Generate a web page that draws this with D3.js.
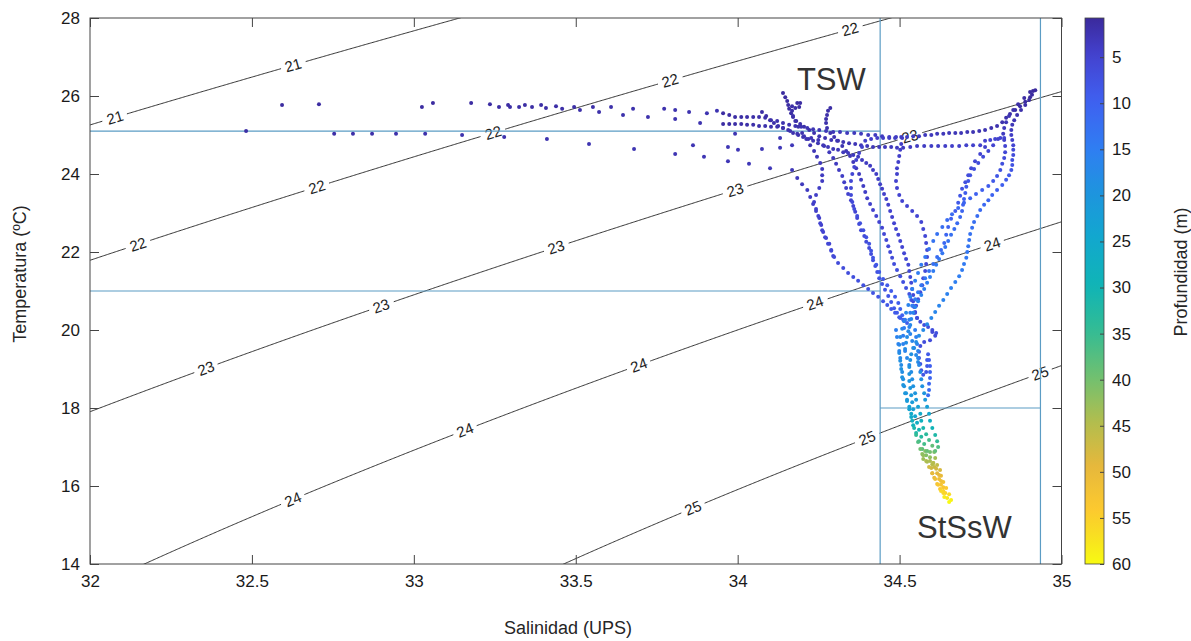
<!DOCTYPE html>
<html>
<head>
<meta charset="utf-8">
<script src="https://cdn.jsdelivr.net/npm/d3@7"></script>
<style>
  body { margin: 0; background: #ffffff; }
  text { font-family: "Liberation Sans", Arial, Helvetica, sans-serif; }
</style>
</head>
<body>
<svg id="chart" width="1191" height="641"></svg>
<script>
// ---------------- axis ticks ----------------
const salTicks = [32, 32.5, 33, 33.5, 34, 34.5, 35];
const tempTicks = [14, 16, 18, 20, 22, 24, 26, 28];
const depthTicks = [5, 10, 15, 20, 25, 30, 35, 40, 45, 50, 55, 60];

// ---------------- isopycnals (sigma-t) ----------------
const sigmaLevels = [21, 22, 23, 24, 25];
// salinity at which each isopycnal carries an inline label
const sigmaLabelSal = [
  [32.077, 32.627],
  [32.148, 32.701, 33.245, 33.791, 34.347],
  [32.358, 32.899, 33.439, 33.992, 34.532],
  [32.627, 33.158, 33.695, 34.239, 34.786],
  [33.862, 34.400, 34.934]
];

// ---------------- water mass limits [S, T] ----------------
const waterMassSegments = [
  [[32, 25.1], [34.44, 25.1]],
  [[32, 21.0], [34.44, 21.0]],
  [[34.44, 14], [34.44, 28]],
  [[34.935, 14], [34.935, 28]],
  [[34.44, 18.0], [34.935, 18.0]]
];
const waterMassNames = ["TSW", "StSsW"];
const waterMassNameSal = [34.183, 34.554];
const waterMassNameTemp = [26.15, 14.67];

// ---------------- CTD observations [salinity, temperature, depth] ----------------
const surfaceObs = [[32.482,25.10,1.4],[32.593,25.77,1.1],[32.707,25.79,1.2],[32.754,25.03,1.6],[32.812,25.03,1.7],[32.871,25.03,1.8],[32.945,25.03,1.9],[33.025,25.72,1.2],[33.035,25.03,2.0],[33.059,25.82,1.1],[33.149,25.00,2.1],[33.177,25.82,1.2],[33.235,25.79,1.3],[33.263,25.72,1.4],[33.279,24.95,2.2],[33.291,25.77,1.3],[33.297,25.72,1.4],[33.325,25.72,1.5],[33.343,25.77,1.4],[33.365,25.72,1.5],[33.393,25.77,1.5],[33.408,25.69,1.6],[33.411,24.90,2.3],[33.439,25.74,1.6],[33.458,25.67,1.7],[33.495,25.72,1.7],[33.513,25.64,1.8],[33.541,24.77,2.4],[33.553,25.72,1.8],[33.572,25.59,1.9],[33.609,25.72,1.9],[33.646,25.51,2.0],[33.677,25.67,2.0],[33.680,24.64,2.5],[33.723,25.46,2.1],[33.773,25.67,2.1],[33.807,25.64,2.2],[33.807,25.41,2.2],[33.807,24.51,2.6],[33.850,25.59,2.3],[33.862,24.74,2.6],[33.884,25.31,2.3],[33.896,24.44,2.7],[33.905,25.56,2.4],[33.936,25.62,2.4],[33.970,24.69,2.7],[33.970,24.33,2.8],[33.992,25.03,2.5],[34.001,24.62,2.8],[34.035,24.26,2.9],[34.075,24.64,2.9],[34.100,24.15,3.0],[34.131,24.67,3.0],[34.131,24.92,2.8],[34.168,24.74,3.1]];

const castA = [[34.075,25.59,1.5],[34.088,25.49,1.6],[34.100,25.38,1.7],[34.112,25.31,1.8],[34.125,25.23,1.9],[34.140,25.18,2.0],[34.156,25.13,2.1],[34.171,25.05,2.2],[34.187,25.00,2.3],[34.202,24.95,2.4],[34.218,24.90,2.5],[34.233,24.85,2.6],[34.248,24.79,2.7],[34.264,24.74,2.8],[34.279,24.69,2.9],[34.295,24.64,3.0],[34.310,24.62,3.1],[34.326,24.56,3.2],[34.341,24.54,3.3],[34.357,24.49,3.4],[34.372,24.44,3.5],[34.384,24.36,3.6],[34.397,24.28,3.7],[34.409,24.21,3.8],[34.418,24.10,3.9],[34.428,24.00,4.0],[34.434,23.87,4.1],[34.440,23.74,4.2],[34.446,23.62,4.3],[34.452,23.49,4.4],[34.459,23.36,4.5],[34.465,23.21,4.6],[34.471,23.05,4.7],[34.477,22.90,4.8],[34.483,22.74,4.9],[34.489,22.59,5.0],[34.496,22.44,5.1],[34.502,22.28,5.2],[34.508,22.13,5.3],[34.514,21.97,5.4],[34.520,21.82,5.5],[34.527,21.67,5.6],[34.530,21.51,5.7],[34.533,21.36,5.8],[34.536,21.21,5.9],[34.539,21.05,6.0],[34.542,20.90,6.1],[34.542,20.74,6.2],[34.545,20.59,6.3],[34.548,20.44,6.4],[34.554,20.31,6.5],[34.564,20.21,6.6],[34.576,20.13,6.7],[34.588,20.08,6.8],[34.601,20.00,6.9],[34.613,19.92,7.0]];

const castB = [[33.955,25.56,1.2],[33.974,25.51,1.3],[33.992,25.46,1.4],[34.011,25.46,1.5],[34.029,25.46,1.6],[34.048,25.46,1.7],[34.066,25.46,1.8],[34.085,25.44,1.9],[34.103,25.38,2.0],[34.122,25.36,2.1],[34.140,25.31,2.2],[34.159,25.26,2.3],[34.178,25.23,2.4],[34.196,25.21,2.5],[34.215,25.18,2.6],[34.233,25.15,2.7],[34.252,25.13,2.8],[34.273,25.10,2.9],[34.295,25.08,3.0],[34.316,25.08,3.1],[34.338,25.05,3.2],[34.360,25.05,3.3],[34.381,25.03,3.4],[34.403,25.00,3.5],[34.425,25.00,3.6],[34.446,24.97,3.7],[34.468,24.95,3.8],[34.489,24.95,3.9],[34.508,24.92,4.0],[34.505,24.77,4.1],[34.502,24.62,4.2],[34.499,24.46,4.3],[34.496,24.31,4.4],[34.492,24.15,4.5],[34.492,24.00,4.6],[34.489,23.82,4.7],[34.492,23.64,4.8],[34.499,23.46,4.9],[34.508,23.31,5.0],[34.523,23.18,5.1],[34.539,23.05,5.2],[34.554,22.92,5.3],[34.567,22.77,5.4],[34.573,22.59,5.5],[34.579,22.41,5.6],[34.582,22.23,5.7],[34.585,22.05,5.8],[34.585,21.87,5.9],[34.582,21.69,6.0],[34.579,21.51,6.1],[34.573,21.33,6.2],[34.570,21.15,6.3],[34.564,20.97,6.4],[34.557,20.79,6.5],[34.551,20.62,6.6],[34.545,20.44,6.7]];

const castC = [[33.955,25.28,1.3],[33.974,25.28,1.4],[33.992,25.28,1.5],[34.011,25.28,1.6],[34.029,25.26,1.7],[34.048,25.26,1.8],[34.066,25.23,1.9],[34.085,25.23,2.0],[34.103,25.21,2.1],[34.122,25.21,2.2],[34.140,25.18,2.3],[34.162,25.10,2.4],[34.184,25.03,2.5],[34.205,24.97,2.6],[34.227,24.92,2.7],[34.249,24.87,2.8],[34.267,24.72,3.0],[34.283,24.56,3.2],[34.295,24.41,3.4],[34.304,24.26,3.6],[34.313,24.10,3.8],[34.323,23.95,4.0],[34.329,23.79,4.2],[34.335,23.64,4.4],[34.341,23.49,4.6],[34.350,23.33,4.8],[34.357,23.18,5.0],[34.363,23.03,5.2],[34.369,22.87,5.4],[34.375,22.72,5.6],[34.381,22.56,5.8],[34.391,22.41,6.0],[34.397,22.26,6.2],[34.406,22.10,6.4],[34.412,21.95,6.6],[34.418,21.79,6.8],[34.425,21.64,7.0],[34.431,21.49,7.2],[34.437,21.33,7.4],[34.446,21.18,7.6],[34.455,21.03,7.8],[34.465,20.87,8.0],[34.474,20.72,8.2],[34.483,20.56,8.4],[34.492,20.44,8.6],[34.502,20.31,8.8]];

const castD = [[34.140,26.08,1.0],[34.147,25.97,1.1],[34.153,25.87,1.2],[34.156,25.77,1.3],[34.159,25.67,1.4],[34.165,25.56,1.5],[34.171,25.46,1.6],[34.181,25.36,1.7],[34.193,25.28,1.8],[34.205,25.21,1.9],[34.221,25.13,2.0],[34.236,25.05,2.1],[34.252,24.97,2.2],[34.270,24.92,2.3],[34.289,24.87,2.4],[34.307,24.85,2.5],[34.326,24.82,2.6],[34.344,24.79,2.7],[34.363,24.77,2.8],[34.381,24.74,2.9],[34.400,24.72,3.0],[34.418,24.69,3.1],[34.437,24.69,3.2],[34.455,24.69,3.3],[34.474,24.69,3.4],[34.492,24.67,3.5],[34.511,24.67,3.6],[34.533,24.69,3.7],[34.554,24.72,3.8],[34.576,24.72,3.9],[34.598,24.72,4.0],[34.619,24.72,4.1],[34.641,24.72,4.2],[34.662,24.72,4.3],[34.684,24.72,4.4],[34.706,24.74,4.5],[34.727,24.74,4.6],[34.749,24.74,4.7],[34.764,24.85,4.8],[34.780,24.87,4.9],[34.795,24.90,5.0],[34.811,24.92,5.1],[34.823,24.92,5.2]];

const castE = [[34.184,25.82,1.2],[34.193,25.82,1.3],[34.190,25.72,1.4],[34.178,25.69,1.5],[34.168,25.74,1.6],[34.168,25.62,1.7],[34.171,25.49,1.8],[34.178,25.36,1.9],[34.187,25.21,2.0],[34.199,25.05,2.2],[34.212,24.90,2.4],[34.224,24.74,2.6],[34.236,24.59,2.8],[34.245,24.44,3.0],[34.255,24.28,3.2],[34.261,24.13,3.4],[34.261,23.97,3.6],[34.261,23.82,3.8],[34.252,23.64,4.0],[34.242,23.46,4.2],[34.236,23.28,4.4],[34.242,23.10,4.6],[34.249,22.92,4.8],[34.255,22.74,5.0],[34.261,22.56,5.2],[34.270,22.38,5.4],[34.279,22.21,5.6],[34.289,22.03,5.8],[34.298,21.87,6.0],[34.310,21.72,6.2],[34.326,21.59,6.4],[34.341,21.46,6.6],[34.357,21.36,6.8],[34.372,21.26,7.0],[34.388,21.15,7.2],[34.403,21.05,7.4],[34.418,20.95,7.6],[34.434,20.85,7.8],[34.449,20.74,8.0],[34.462,20.64,8.2],[34.474,20.54,8.4],[34.486,20.44,8.6],[34.499,20.33,8.8],[34.511,20.26,9.0],[34.523,20.18,9.2]];

const castF = [[34.286,25.69,1.5],[34.279,25.62,1.6],[34.276,25.51,1.7],[34.273,25.41,1.8],[34.273,25.31,1.9],[34.276,25.18,2.0],[34.286,25.05,2.1],[34.298,24.95,2.2],[34.310,24.85,2.3],[34.323,24.72,2.5],[34.335,24.59,2.7],[34.347,24.46,2.9],[34.357,24.31,3.1],[34.366,24.15,3.3],[34.375,24.00,3.5],[34.381,23.85,3.7],[34.388,23.69,3.9],[34.394,23.54,4.1],[34.400,23.38,4.3],[34.409,23.23,4.5],[34.418,23.08,4.7],[34.428,22.92,4.9],[34.437,22.77,5.1],[34.446,22.62,5.3],[34.452,22.46,5.5],[34.459,22.31,5.7],[34.465,22.15,5.9],[34.471,22.00,6.1],[34.477,21.85,6.3],[34.483,21.69,6.5],[34.492,21.54,6.7],[34.502,21.38,6.9],[34.511,21.23,7.1],[34.520,21.08,7.3],[34.530,20.92,7.5],[34.536,20.77,7.7],[34.542,20.62,7.9],[34.548,20.46,8.1],[34.554,20.31,8.3]];

const castG = [[34.912,26.13,0.8],[34.903,25.97,1.0],[34.888,25.85,1.2],[34.872,25.74,1.4],[34.857,25.64,1.6],[34.841,25.54,1.8],[34.829,25.44,2.0],[34.817,25.33,2.1],[34.801,25.23,2.2],[34.783,25.18,2.3],[34.764,25.13,2.4],[34.746,25.10,2.5],[34.727,25.08,2.6],[34.709,25.08,2.7],[34.690,25.05,2.8],[34.672,25.05,2.9],[34.653,25.05,3.0],[34.635,25.03,3.1],[34.616,25.03,3.2],[34.598,25.00,3.3],[34.579,25.00,3.4],[34.560,24.97,3.5],[34.542,24.97,3.6],[34.523,24.95,3.7],[34.505,24.95,3.8],[34.486,24.92,3.9],[34.468,24.92,4.0],[34.449,24.92,4.1],[34.431,24.92,4.2],[34.412,24.90,4.3],[34.394,24.85,4.4],[34.384,24.69,4.6],[34.375,24.54,4.8],[34.366,24.36,5.0],[34.360,24.18,5.2],[34.354,24.00,5.4],[34.350,23.82,5.6],[34.350,23.64,5.8],[34.350,23.46,6.0],[34.354,23.28,6.2],[34.360,23.10,6.4],[34.369,22.92,6.6],[34.378,22.74,6.8],[34.388,22.56,7.0],[34.397,22.38,7.2],[34.406,22.21,7.4],[34.412,22.03,7.6],[34.418,21.85,7.8],[34.428,21.67,8.0],[34.437,21.49,8.2],[34.449,21.31,8.4],[34.462,21.15,8.6],[34.474,21.00,8.8],[34.486,20.85,9.0],[34.496,20.69,9.2],[34.502,20.54,9.4],[34.508,20.38,9.6],[34.514,20.23,9.8]];

const castH = [[34.804,24.90,4.5],[34.789,24.74,5.0],[34.774,24.59,5.5],[34.758,24.44,6.0],[34.743,24.28,6.5],[34.730,24.13,7.0],[34.718,23.97,7.5],[34.712,23.82,8.0],[34.706,23.67,8.5],[34.703,23.51,9.0],[34.699,23.36,9.5],[34.696,23.21,10.0],[34.693,23.05,10.5],[34.687,22.90,11.0],[34.678,22.74,11.5],[34.669,22.59,12.0],[34.659,22.44,12.4],[34.650,22.28,12.8],[34.641,22.13,13.2],[34.632,21.97,13.6],[34.622,21.82,14.0],[34.613,21.67,14.3],[34.604,21.51,14.6],[34.594,21.36,14.9],[34.585,21.21,15.2],[34.576,21.05,15.5],[34.567,20.90,15.8],[34.557,20.74,16.1],[34.548,20.59,16.4],[34.542,20.44,16.7],[34.536,20.28,17.0],[34.533,20.13,17.3],[34.527,19.97,17.6],[34.523,19.82,17.9],[34.520,19.67,18.2],[34.517,19.51,18.5]];

const castI = [[34.764,24.69,4.5],[34.749,24.51,5.0],[34.733,24.33,5.5],[34.721,24.15,6.0],[34.712,23.97,6.5],[34.703,23.79,7.0],[34.693,23.62,7.5],[34.687,23.44,8.0],[34.681,23.26,8.5],[34.672,23.05,9.0],[34.659,22.85,9.5],[34.650,22.64,10.0],[34.644,22.44,10.5],[34.638,22.23,11.0],[34.628,22.05,11.5],[34.616,21.87,12.0],[34.604,21.69,12.4],[34.591,21.51,12.8],[34.579,21.33,13.2],[34.567,21.15,13.6],[34.557,20.97,14.0],[34.548,20.79,14.4],[34.539,20.62,14.8],[34.533,20.44,15.2],[34.530,20.26,15.6],[34.530,20.08,16.0],[34.533,19.90,16.4],[34.539,19.72,16.8],[34.545,19.54,17.2],[34.551,19.36,17.6],[34.557,19.18,18.0]];

const castJ = [[34.601,19.95,6.0],[34.610,19.85,6.2],[34.594,19.74,6.4],[34.576,19.69,6.6],[34.564,19.59,6.8],[34.560,19.44,7.0],[34.560,19.28,7.2],[34.564,19.13,7.4],[34.567,18.97,7.6],[34.573,18.85,7.8],[34.582,18.92,8.0],[34.585,19.08,8.2],[34.585,19.23,8.4],[34.588,19.38,8.6],[34.591,19.23,9.0],[34.594,19.08,9.5],[34.594,18.92,10.0],[34.594,18.77,10.5],[34.591,18.62,11.0],[34.591,18.46,11.5],[34.588,18.33,12.0]];

const castK = [[34.489,20.00,15.5],[34.492,19.82,16.0],[34.496,19.64,16.5],[34.499,19.46,17.0],[34.502,19.28,17.5],[34.505,19.10,18.0],[34.508,18.92,18.5],[34.511,18.74,19.0],[34.514,18.56,19.6],[34.520,18.38,20.2],[34.523,18.21,21.0],[34.530,18.03,23.0],[34.536,17.85,25.5],[34.539,17.67,28.0],[34.545,17.49,31.0],[34.551,17.31,34.5],[34.557,17.13,37.0],[34.564,16.95,39.5],[34.573,16.79,42.5],[34.582,16.64,45.0],[34.591,16.49,47.5],[34.601,16.33,49.5],[34.610,16.18,51.5],[34.619,16.03,53.5],[34.628,15.87,56.0],[34.638,15.72,58.5]];

const castL = [[34.548,20.00,15.0],[34.551,19.82,15.5],[34.554,19.64,16.0],[34.557,19.46,16.5],[34.557,19.28,17.0],[34.560,19.10,17.5],[34.564,18.92,18.0],[34.567,18.74,18.6],[34.570,18.56,19.2],[34.576,18.38,20.0],[34.579,18.21,21.0],[34.585,18.03,22.5],[34.591,17.85,24.5],[34.594,17.67,27.0],[34.601,17.49,29.5],[34.610,17.31,32.0],[34.616,17.15,34.5],[34.619,17.00,37.0],[34.610,16.90,38.5],[34.594,16.87,40.0],[34.579,16.90,41.0],[34.570,16.82,42.0],[34.573,16.69,43.0],[34.585,16.62,44.0],[34.601,16.56,45.0],[34.616,16.54,46.0],[34.625,16.41,48.0],[34.628,16.26,50.0],[34.635,16.10,52.0],[34.644,15.95,54.0],[34.653,15.79,56.5],[34.659,15.64,59.0]];

const castM = [[34.517,20.26,14.5],[34.514,20.05,15.0],[34.511,19.85,15.5],[34.511,19.64,16.0],[34.517,19.46,16.5],[34.523,19.28,17.0],[34.530,19.10,17.5],[34.536,18.92,18.0],[34.539,18.74,18.6],[34.542,18.56,19.3],[34.548,18.38,20.0],[34.551,18.21,21.0],[34.557,18.03,23.0],[34.564,17.85,25.5],[34.567,17.67,28.0],[34.573,17.49,31.0],[34.582,17.33,33.5],[34.591,17.18,36.0],[34.601,17.03,38.5],[34.607,16.87,41.0],[34.610,16.72,43.5],[34.604,16.59,45.5],[34.598,16.46,47.0],[34.601,16.33,48.5],[34.607,16.21,50.0],[34.616,16.05,52.0],[34.625,15.92,54.0],[34.635,15.82,56.0]];

const castN = [[34.168,24.10,3.0],[34.184,23.90,3.2],[34.199,23.74,3.4],[34.215,23.59,3.6],[34.224,23.41,3.8],[34.233,23.23,4.0],[34.242,23.05,4.2],[34.252,22.87,4.4],[34.258,22.69,4.6],[34.264,22.51,4.8],[34.273,22.36,5.0],[34.283,22.21,5.2],[34.289,22.05,5.4],[34.295,21.90,5.6]];

const castP = [[34.919,26.15,0.8],[34.909,26.03,1.0],[34.900,25.90,1.3],[34.888,25.77,1.6],[34.875,25.64,1.9],[34.863,25.51,2.2],[34.854,25.38,2.6],[34.848,25.26,3.0],[34.845,25.13,3.5],[34.845,25.00,4.0],[34.848,24.87,4.6],[34.851,24.74,5.2],[34.851,24.62,5.8],[34.851,24.49,6.4],[34.848,24.36,7.0],[34.848,24.23,7.5],[34.845,24.10,8.0],[34.838,23.97,8.5],[34.829,23.85,9.0],[34.817,23.72,9.4],[34.801,23.59,9.8],[34.786,23.46,10.2],[34.774,23.33,10.6],[34.761,23.21,11.0],[34.749,23.08,11.4],[34.740,22.92,11.8],[34.730,22.77,12.2],[34.724,22.62,12.5],[34.718,22.46,12.8],[34.715,22.31,13.1],[34.712,22.15,13.4],[34.709,22.00,13.7],[34.706,21.85,14.0],[34.699,21.69,14.3],[34.693,21.54,14.6],[34.684,21.38,14.9],[34.672,21.23,15.2],[34.659,21.08,15.5],[34.647,20.92,15.8],[34.635,20.77,16.1],[34.622,20.62,16.4],[34.610,20.46,16.7],[34.598,20.31,17.0],[34.585,20.15,17.3],[34.573,20.00,17.6],[34.560,19.85,17.9],[34.551,19.69,18.2],[34.542,19.54,18.5],[34.536,19.38,18.8],[34.533,19.23,19.1],[34.530,19.05,19.4],[34.530,18.87,19.7],[34.530,18.69,20.0],[34.533,18.51,20.4],[34.536,18.33,20.8],[34.539,18.15,21.4],[34.542,17.97,22.5],[34.548,17.79,24.5],[34.554,17.62,27.0],[34.560,17.44,30.0],[34.567,17.26,33.0],[34.576,17.08,36.0],[34.585,16.90,39.0],[34.594,16.74,42.0],[34.604,16.59,45.0],[34.613,16.44,47.5],[34.622,16.28,49.5],[34.628,16.13,51.5],[34.635,15.97,53.5],[34.641,15.82,55.5],[34.647,15.69,58.0],[34.653,15.59,60.0]];

const castQ = [[34.903,26.10,1.0],[34.885,25.95,1.3],[34.866,25.79,1.6],[34.851,25.64,2.0],[34.838,25.49,2.4],[34.829,25.33,2.8],[34.823,25.18,3.2],[34.820,25.03,3.6],[34.823,24.87,4.4],[34.826,24.72,5.0],[34.826,24.56,5.6],[34.823,24.41,6.2],[34.817,24.26,6.8],[34.811,24.10,7.4],[34.801,23.95,8.0],[34.789,23.82,8.5],[34.774,23.69,9.0],[34.755,23.59,9.4],[34.736,23.49,9.8],[34.718,23.38,10.2],[34.699,23.26,10.6],[34.681,23.13,11.0],[34.662,22.97,11.4],[34.647,22.82,11.8],[34.632,22.64,12.2],[34.616,22.46,12.6],[34.604,22.28,13.0],[34.591,22.08,13.4],[34.579,21.87,13.8],[34.567,21.67,14.2],[34.557,21.46,14.6],[34.548,21.26,15.0],[34.539,21.05,15.4],[34.533,20.85,15.8],[34.527,20.64,16.2],[34.520,20.44,16.6],[34.514,20.23,17.0],[34.508,20.03,17.4],[34.502,19.82,17.8],[34.499,19.62,18.2],[34.499,19.41,18.6],[34.502,19.21,19.0],[34.505,19.00,19.4],[34.508,18.79,19.8],[34.511,18.59,20.3],[34.517,18.38,20.9],[34.523,18.18,21.6],[34.530,17.97,23.5],[34.536,17.77,26.0],[34.542,17.56,29.0],[34.551,17.36,32.0],[34.560,17.15,35.0],[34.570,16.95,38.0],[34.582,16.79,41.0],[34.594,16.64,44.0],[34.607,16.49,46.5],[34.616,16.33,49.0],[34.622,16.18,51.0],[34.628,16.03,53.0],[34.635,15.87,55.0]];

const casts = [surfaceObs, castN, castB, castC, castD, castE, castF, castG, castA,
               castH, castI, castQ, castJ, castM, castK, castL, castP];

// ---------------- layout ----------------
const W = 1191, H = 641;
const plot = { left: 90, right: 1061.5, top: 18, bottom: 564 };
const cbar = { left: 1085, width: 19 };
const depthLimits = [0.75, 60];

const svg = d3.select("#chart");
svg.append("rect").attr("width", W).attr("height", H).attr("fill", "#ffffff");

const x = d3.scaleLinear().domain([32, 35]).range([plot.left, plot.right]);
const y = d3.scaleLinear().domain([14, 28]).range([plot.bottom, plot.top]);

// parula-like colour map over depth
const parulaPos = [0, 0.07, 0.15, 0.24, 0.32, 0.40, 0.49, 0.57, 0.66, 0.74, 0.82, 0.90, 0.95, 1];
const parulaHex = ["#3b2a9c", "#4343d0", "#3f60f0", "#2f7ef2", "#1e94de", "#12a7cf", "#10b4b6",
                   "#32bc95", "#72c06f", "#b2bd4e", "#e6b83c", "#fcc92f", "#f8e021", "#f8fa12"];
const depthColor = d3.scaleLinear()
  .domain(parulaPos.map(p => depthLimits[0] + p * (depthLimits[1] - depthLimits[0])))
  .range(parulaHex)
  .interpolate(d3.interpolateRgb)
  .clamp(true);

svg.append("defs").append("clipPath").attr("id", "plotClip")
  .append("rect")
  .attr("x", plot.left).attr("y", plot.top)
  .attr("width", plot.right - plot.left).attr("height", plot.bottom - plot.top);

// ---------------- sigma-t (UNESCO 1980, surface pressure) ----------------
function sigmaT(S, T) {
  const rw = 999.842594 + 6.793952e-2 * T - 9.095290e-3 * T * T + 1.001685e-4 * T ** 3
           - 1.120083e-6 * T ** 4 + 6.536332e-9 * T ** 5;
  const A = 8.24493e-1 - 4.0899e-3 * T + 7.6438e-5 * T * T - 8.2467e-7 * T ** 3 + 5.3875e-9 * T ** 4;
  const B = -5.72466e-3 + 1.0227e-4 * T - 1.6546e-6 * T * T;
  const C = 4.8314e-4;
  return rw + A * S + B * Math.pow(S, 1.5) + C * S * S - 1000;
}
function isoTemp(S, sig) {
  let lo = 0, hi = 40;
  for (let i = 0; i < 60; i++) {
    const m = (lo + hi) / 2;
    if (sigmaT(S, m) > sig) lo = m; else hi = m;
  }
  return (lo + hi) / 2;
}

const contourLayer = svg.append("g").attr("clip-path", "url(#plotClip)");
const labelLayer = svg.append("g");
const salGrid = d3.range(31.95, 35.06, 0.004);
const gapRadius = 12;

sigmaLevels.forEach((lev, i) => {
  const labels = sigmaLabelSal[i].map(s => {
    const px = x(s), py = y(isoTemp(s, lev));
    const p1x = x(s - 0.01), p1y = y(isoTemp(s - 0.01, lev));
    const p2x = x(s + 0.01), p2y = y(isoTemp(s + 0.01, lev));
    const ang = Math.atan2(p2y - p1y, p2x - p1x) * 180 / Math.PI;
    return { px, py, ang };
  });
  const pts = salGrid.map(s => [s, isoTemp(s, lev)]);
  const line = d3.line()
    .defined(d => labels.every(l => Math.hypot(x(d[0]) - l.px, y(d[1]) - l.py) > gapRadius))
    .x(d => x(d[0])).y(d => y(d[1]));
  contourLayer.append("path").datum(pts)
    .attr("d", line)
    .attr("fill", "none").attr("stroke", "#1e1e1e").attr("stroke-width", 0.9);
  labels.forEach(l => {
    labelLayer.append("text")
      .attr("transform", `translate(${l.px},${l.py}) rotate(${l.ang})`)
      .attr("text-anchor", "middle").attr("dy", "0.35em")
      .attr("font-size", 15).attr("fill", "#1e1e1e")
      .text(lev);
  });
});

// ---------------- water mass limits ----------------
svg.append("g").selectAll("line").data(waterMassSegments).join("line")
  .attr("x1", d => x(d[0][0])).attr("y1", d => y(d[0][1]))
  .attr("x2", d => x(d[1][0])).attr("y2", d => y(d[1][1]))
  .attr("stroke", "#5b9cc4").attr("stroke-width", 1.2);

// ---------------- observations ----------------
const obs = casts.flat();
svg.append("g").attr("clip-path", "url(#plotClip)")
  .selectAll("circle").data(obs).join("circle")
  .attr("cx", d => x(d[0])).attr("cy", d => y(d[1]))
  .attr("r", 2.0)
  .attr("fill", d => depthColor(d[2]));

// ---------------- water mass names ----------------
waterMassNames.forEach((n, i) => {
  svg.append("text")
    .attr("x", x(waterMassNameSal[i])).attr("y", y(waterMassNameTemp[i]))
    .attr("font-size", 31).attr("fill", "#333333")
    .text(n);
});

// ---------------- axes ----------------
const axisColor = "#444444";
const tickText = "#1a1a1a";
function styleAxis(g) {
  g.select(".domain").remove();
  g.selectAll(".tick line").attr("stroke", axisColor);
  g.selectAll(".tick text").attr("fill", tickText).attr("font-size", 17)
    .attr("font-family", "'Liberation Sans', Arial, sans-serif");
}
svg.append("g").attr("transform", `translate(0,${plot.bottom})`)
  .call(d3.axisBottom(x).tickValues(salTicks).tickSize(-9).tickPadding(11).tickFormat(d3.format("")))
  .call(styleAxis);
svg.append("g").attr("transform", `translate(0,${plot.top})`)
  .call(d3.axisTop(x).tickValues(salTicks).tickSize(-9).tickFormat(""))
  .call(styleAxis);
svg.append("g").attr("transform", `translate(${plot.left},0)`)
  .call(d3.axisLeft(y).tickValues(tempTicks).tickSize(-9).tickPadding(10).tickFormat(d3.format("")))
  .call(styleAxis);
svg.append("g").attr("transform", `translate(${plot.right},0)`)
  .call(d3.axisRight(y).tickValues(tempTicks).tickSize(-9).tickFormat(""))
  .call(styleAxis);
svg.append("rect")
  .attr("x", plot.left).attr("y", plot.top)
  .attr("width", plot.right - plot.left).attr("height", plot.bottom - plot.top)
  .attr("fill", "none").attr("stroke", axisColor).attr("stroke-width", 1);

svg.append("text")
  .attr("x", 568).attr("y", 634).attr("text-anchor", "middle")
  .attr("font-size", 18).attr("fill", "#262626")
  .text("Salinidad (UPS)");
svg.append("text")
  .attr("transform", "translate(20,274) rotate(-90)")
  .attr("text-anchor", "middle").attr("dy", "0.35em")
  .attr("font-size", 18).attr("fill", "#262626")
  .text("Temperatura (ºC)");

// ---------------- colour bar ----------------
const cy = d3.scaleLinear().domain(depthLimits).range([plot.top, plot.bottom]);
const grad = svg.select("defs").append("linearGradient")
  .attr("id", "depthGrad").attr("x1", 0).attr("x2", 0).attr("y1", 0).attr("y2", 1);
d3.range(0, 1.0001, 0.02).forEach(t => {
  grad.append("stop").attr("offset", t)
    .attr("stop-color", depthColor(depthLimits[0] + t * (depthLimits[1] - depthLimits[0])));
});
svg.append("rect")
  .attr("x", cbar.left).attr("y", plot.top)
  .attr("width", cbar.width).attr("height", plot.bottom - plot.top)
  .attr("fill", "url(#depthGrad)").attr("stroke", axisColor).attr("stroke-width", 0.8);
svg.append("g").attr("transform", `translate(${cbar.left + cbar.width},0)`)
  .call(d3.axisRight(cy).tickValues(depthTicks).tickSize(-4).tickPadding(8).tickFormat(d3.format("")))
  .call(styleAxis);
svg.append("text")
  .attr("transform", "translate(1181,272) rotate(-90)")
  .attr("text-anchor", "middle").attr("dy", "0.35em")
  .attr("font-size", 18).attr("fill", "#262626")
  .text("Profundidad (m)");
</script>
</body>
</html>
